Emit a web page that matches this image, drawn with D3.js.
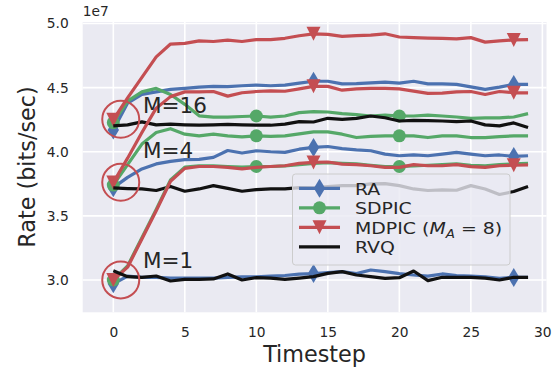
<!DOCTYPE html>
<html><head><meta charset="utf-8">
<script src="https://cdn.jsdelivr.net/npm/d3@7/dist/d3.min.js"></script>
<style>
body{margin:0;background:#fff}
text{font-family:"DejaVu Sans",sans-serif;fill:#262626}
</style>
</head><body>
<svg id="c" width="559" height="373"></svg>
<script>
// ---- data (values in units of 1e7 bits/sec) ----
const timesteps = [0,1,2,3,4,5,6,7,8,9,10,11,12,13,14,15,16,17,18,19,20,21,22,23,24,25,26,27,28,29];
const xTicks = [0,5,10,15,20,25,30];
const yTicks = [3.0,3.5,4.0,4.5,5.0];
const yTickLabels = ["3.0","3.5","4.0","4.5","5.0"];
const methods = ["RA","SDPIC","MDPIC","RVQ"];
const groupLabels = ["M=16","M=4","M=1"];
const groupLabelY = [4.30,3.949,3.091];
const circleCenters = [4.253,3.762,3.0];

const ra_m16 = [4.17,4.38,4.447,4.467,4.486,4.494,4.504,4.51,4.508,4.515,4.52,4.515,4.52,4.535,4.55,4.55,4.53,4.532,4.537,4.543,4.535,4.55,4.53,4.53,4.525,4.506,4.486,4.504,4.525,4.525];
const ra_m4  = [3.72,3.80,3.866,3.905,3.925,3.938,3.94,3.956,4.01,3.99,4.008,4.0,3.995,4.02,4.034,4.041,4.025,4.015,4.008,3.982,3.969,3.975,3.969,3.982,3.995,3.982,3.969,3.975,3.964,3.969];
const ra_m1  = [2.97,3.03,3.02,3.02,3.015,3.015,3.015,3.015,3.02,3.025,3.025,3.03,3.035,3.045,3.05,3.058,3.065,3.05,3.078,3.065,3.05,3.039,3.03,3.047,3.035,3.03,3.025,3.013,3.02,3.021];

const sdpic_m16 = [4.227,4.395,4.467,4.494,4.447,4.37,4.28,4.27,4.27,4.275,4.279,4.27,4.279,4.305,4.313,4.31,4.297,4.29,4.279,4.285,4.279,4.279,4.285,4.279,4.271,4.261,4.265,4.265,4.271,4.297];
const sdpic_m4  = [3.74,3.9,4.06,4.15,4.18,4.137,4.124,4.137,4.124,4.116,4.124,4.12,4.124,4.14,4.155,4.155,4.137,4.111,4.12,4.124,4.124,4.124,4.111,4.124,4.124,4.111,4.111,4.118,4.124,4.124];
const sdpic_m1  = [3.0,3.11,3.33,3.55,3.78,3.88,3.89,3.89,3.885,3.88,3.885,3.885,3.89,3.90,3.91,3.915,3.91,3.905,3.895,3.885,3.885,3.89,3.895,3.9,3.905,3.895,3.89,3.9,3.905,3.91];

const mdpic_m16 = [4.25,4.42,4.58,4.74,4.84,4.845,4.865,4.86,4.87,4.86,4.875,4.875,4.885,4.905,4.92,4.915,4.90,4.905,4.91,4.92,4.895,4.89,4.887,4.885,4.88,4.89,4.855,4.865,4.872,4.875];
const mdpic_m4  = [3.76,3.95,4.15,4.34,4.43,4.467,4.467,4.47,4.434,4.46,4.47,4.475,4.472,4.49,4.51,4.51,4.48,4.49,4.494,4.494,4.49,4.473,4.455,4.458,4.467,4.47,4.447,4.47,4.46,4.46];
const mdpic_m1  = [3.0,3.10,3.32,3.54,3.77,3.87,3.885,3.885,3.878,3.866,3.878,3.885,3.891,3.91,3.917,3.92,3.904,3.9,3.891,3.878,3.878,3.9,3.891,3.891,3.9,3.884,3.878,3.891,3.895,3.897];

const rvq_m16 = [4.202,4.21,4.233,4.21,4.215,4.21,4.207,4.21,4.213,4.21,4.207,4.207,4.215,4.235,4.232,4.261,4.253,4.261,4.279,4.265,4.24,4.245,4.243,4.24,4.235,4.24,4.21,4.202,4.225,4.189];
const rvq_m4  = [3.718,3.713,3.71,3.698,3.729,3.692,3.71,3.736,3.715,3.692,3.705,3.71,3.71,3.72,3.718,3.728,3.736,3.736,3.75,3.752,3.736,3.71,3.698,3.703,3.7,3.736,3.71,3.667,3.69,3.729];
const rvq_m1  = [3.072,3.026,3.021,3.031,2.992,3.005,3.005,3.008,3.047,3.0,3.018,3.015,3.005,3.015,3.026,3.052,3.065,3.039,3.026,3.013,3.018,3.07,2.995,3.021,3.021,3.021,3.015,3.0,3.021,3.021];

// ---- styling ----
const colors = {RA:"#4c72b0", SDPIC:"#55a868", MDPIC:"#c44e52", RVQ:"#111111"};
const markEvery = {RA:14, SDPIC:10, MDPIC:14, RVQ:0};
const seriesData = {
  RA:[ra_m16,ra_m4,ra_m1], SDPIC:[sdpic_m16,sdpic_m4,sdpic_m1],
  MDPIC:[mdpic_m16,mdpic_m4,mdpic_m1], RVQ:[rvq_m16,rvq_m4,rvq_m1]
};

const svg = d3.select("#c");
const L = 82.7, R = 546.5, T = 22, B = 312.3;
const x = d3.scaleLinear().domain([-2.14, 30.29]).range([L, R]);
const y = d3.scaleLinear().domain([2.748, 5.012]).range([B, T]);

svg.append("rect").attr("x",L).attr("y",T).attr("width",R-L).attr("height",B-T).attr("fill","#eaeaf2");
svg.append("clipPath").attr("id","clip").append("rect").attr("x",L).attr("y",T).attr("width",R-L).attr("height",B-T);

// grid
const g = svg.append("g");
g.selectAll(".gx").data(xTicks).enter().append("line")
  .attr("x1",d=>x(d)).attr("x2",d=>x(d)).attr("y1",T).attr("y2",B)
  .attr("stroke","#fff").attr("stroke-width",1.6);
g.selectAll(".gy").data(yTicks).enter().append("line")
  .attr("y1",d=>y(d)).attr("y2",d=>y(d)).attr("x1",L).attr("x2",R)
  .attr("stroke","#fff").attr("stroke-width",1.6);

// axes (tick labels via d3 axes, no tick lines / domain)
const xAxis = svg.append("g").attr("transform",`translate(0,${B})`)
  .call(d3.axisBottom(x).tickValues(xTicks).tickSize(0).tickPadding(15).tickFormat(d3.format("d")));
const yAxis = svg.append("g").attr("transform",`translate(${L},0)`)
  .call(d3.axisLeft(y).tickValues(yTicks).tickSize(0).tickPadding(14).tickFormat((d,i)=>yTickLabels[i]));
[xAxis,yAxis].forEach(a=>{
  a.select(".domain").remove();
  a.selectAll("text").attr("font-family","DejaVu Sans").attr("font-size",13.8).attr("fill","#262626");
});

svg.append("text").attr("x",L).attr("y",16).attr("font-size",13.8).text("1e7");
svg.append("text").attr("x",(L+R)/2).attr("y",362).attr("text-anchor","middle").attr("font-size",22.3).text("Timestep");
svg.append("text").attr("transform","translate(35,167) rotate(-90)").attr("text-anchor","middle").attr("font-size",22.3).text("Rate (bits/sec)");

// markers
function markerPath(m){
  if(m==="RA"){ const w=5.7, h=9.5; return `M0,${-h}L${w},0L0,${h}L${-w},0Z`; }
  if(m==="MDPIC"){ const w=7, h=7; return `M${-w},${-h}L${w},${-h}L0,${h}Z`; }
  if(m==="SDPIC"){ return d3.symbol(d3.symbolCircle, Math.PI*6.5*6.5)(); }
  return "";
}

const plot = svg.append("g").attr("clip-path","url(#clip)");
const line = d3.line().x((d,i)=>x(timesteps[i])).y(d=>y(d));
[0,1,2].forEach(gi=>{
  methods.forEach(m=>{
    const vals = seriesData[m][gi];
    plot.append("path").attr("d",line(vals)).attr("fill","none")
      .attr("stroke",colors[m]).attr("stroke-width",3.2).attr("stroke-linejoin","round");
    if(markEvery[m]){
      plot.selectAll(null).data(vals.map((v,i)=>[timesteps[i],v]).filter((d,i)=>i%markEvery[m]===0))
        .enter().append("path").attr("d",markerPath(m))
        .attr("transform",d=>`translate(${x(d[0])},${y(d[1])})`).attr("fill",colors[m]);
    }
  });
});

// highlight circles and group labels
svg.selectAll(".hc").data(circleCenters).enter().append("circle")
  .attr("cx",x(0.52)).attr("cy",d=>y(d)).attr("r",18.5)
  .attr("fill","none").attr("stroke","#c44e52").attr("stroke-width",2);
svg.selectAll(".gl").data(groupLabels).enter().append("text")
  .attr("x",x(2.07)).attr("y",(d,i)=>y(groupLabelY[i])).attr("font-size",21.5).text(d=>d);

// legend
const lg = svg.append("g");
lg.append("rect").attr("x",292.5).attr("y",174).attr("width",217.5).attr("height",91).attr("rx",3)
  .attr("fill","#eaeaf2").attr("fill-opacity",0.8).attr("stroke","#cccccc").attr("stroke-width",1);
methods.forEach((m,i)=>{
  const cy = 188.3 + i*19.5;
  lg.append("line").attr("x1",299).attr("x2",340).attr("y1",cy).attr("y2",cy)
    .attr("stroke",colors[m]).attr("stroke-width",3.2);
  if(markEvery[m]) lg.append("path").attr("d",markerPath(m)).attr("transform",`translate(319.5,${cy})`).attr("fill",colors[m]);
  const t = lg.append("text").attr("transform",`translate(355,${cy+6.3}) scale(1.14,1)`).attr("font-size",16.6);
  if(m==="MDPIC"){
    t.append("tspan").text("MDPIC (");
    t.append("tspan").attr("font-style","italic").text("M");
    t.append("tspan").attr("font-style","italic").attr("font-size",11.8).attr("dy",4).text("A");
    t.append("tspan").attr("dy",-4).text(" = 8)");
  } else t.text(m);
});
</script>
</body></html>
